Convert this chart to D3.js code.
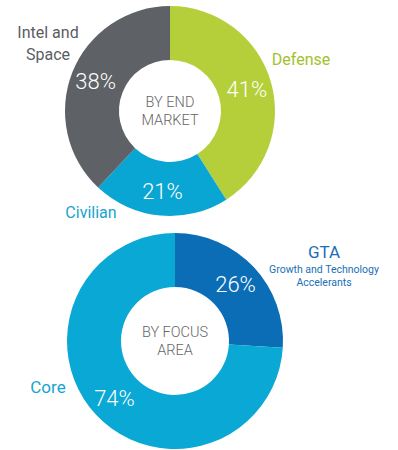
<!DOCTYPE html>
<html>
<head>
<meta charset="utf-8">
<script src="https://cdn.jsdelivr.net/npm/d3@7"></script>
<style>
  html, body { margin: 0; padding: 0; background: #fff; }
  svg { display: block; }
</style>
</head>
<body>
<svg id="chart"></svg>
<script>
// 数据：按终端市场
const marketNames = ["Defense", "Civilian", "Intel and Space"];
const marketValues = [41, 21, 38];
// 数据：按重点领域
const focusNames = ["GTA", "Core"];
const focusValues = [26, 74];

const width = 398, height = 450;
const svg = d3.select("#chart").attr("width", width).attr("height", height);

const marketColor = d3.scaleOrdinal()
  .domain(marketNames)
  .range(["#b5cf3a", "#0aa6d3", "#5e6166"]);
const focusColor = d3.scaleOrdinal()
  .domain(focusNames)
  .range(["#0a6db6", "#0aa8d4"]);

const pie = d3.pie().sort(null).startAngle(0).endAngle(2 * Math.PI);

// 画一个环形图
function drawDonut(names, values, color, cx, cy, outer, inner, centerLines) {
  const g = svg.append("g").attr("transform", `translate(${cx},${cy})`);
  const arc = d3.arc().outerRadius(outer).innerRadius(inner);
  const labelArc = d3.arc().outerRadius((outer + inner) / 2 + 2).innerRadius((outer + inner) / 2 + 2);
  const arcs = pie(values.map((v, i) => ({ name: names[i], value: v })).map(d => d.value))
    .map((a, i) => Object.assign(a, { name: names[i] }));

  g.selectAll("path")
    .data(arcs)
    .enter()
    .append("path")
    .attr("d", arc)
    .attr("fill", d => color(d.name));

  // 百分比标签
  g.selectAll("text.pct")
    .data(arcs)
    .enter()
    .append("text")
    .attr("class", "pct")
    .attr("transform", d => `translate(${labelArc.centroid(d)})`)
    .attr("dy", "0.36em")
    .attr("text-anchor", "middle")
    .style("font-family", "Roboto, 'Liberation Sans', sans-serif")
    .style("font-weight", 300)
    .style("font-size", "22px")
    .attr("fill", "#fff")
    .text(d => d.value + "%");

  // 中心文字
  g.selectAll("text.center")
    .data(centerLines)
    .enter()
    .append("text")
    .attr("class", "center")
    .attr("x", 0)
    .attr("y", (d, i) => (i - (centerLines.length - 1) / 2) * 18 + 5)
    .attr("text-anchor", "middle")
    .style("font-family", "Roboto, 'Liberation Sans', sans-serif")
    .style("font-weight", 300)
    .style("font-size", "14.5px")
    .attr("fill", "#666")
    .text(d => d);
}

drawDonut(marketNames, marketValues, marketColor, 170, 111, 105, 51, ["BY END", "MARKET"]);
drawDonut(focusNames, focusValues, focusColor, 175, 341, 108, 54, ["BY FOCUS", "AREA"]);

// 外部类别标签
const outerLabels = [
  { text: "Intel and", x: 48, y: 38, size: 16, color: "#5a5d62" },
  { text: "Space", x: 48, y: 60, size: 16, color: "#5a5d62" },
  { text: "Defense", x: 301, y: 65, size: 16, color: "#a2c22c" },
  { text: "Civilian", x: 91, y: 218, size: 16, color: "#17a4d0" },
  { text: "GTA", x: 324, y: 258, size: 17, color: "#1a6fb6" },
  { text: "Growth and Technology", x: 324, y: 273, size: 10.5, color: "#1a6fb6" },
  { text: "Accelerants", x: 324, y: 286, size: 10.5, color: "#1a6fb6" },
  { text: "Core", x: 48, y: 393, size: 17, color: "#17a4d0" }
];

svg.selectAll("text.outer")
  .data(outerLabels)
  .enter()
  .append("text")
  .attr("class", "outer")
  .attr("x", d => d.x)
  .attr("y", d => d.y)
  .attr("text-anchor", "middle")
  .style("font-family", "Roboto, 'Liberation Sans', sans-serif")
  .style("font-size", d => d.size + "px")
  .attr("fill", d => d.color)
  .text(d => d.text);
</script>
</body>
</html>
